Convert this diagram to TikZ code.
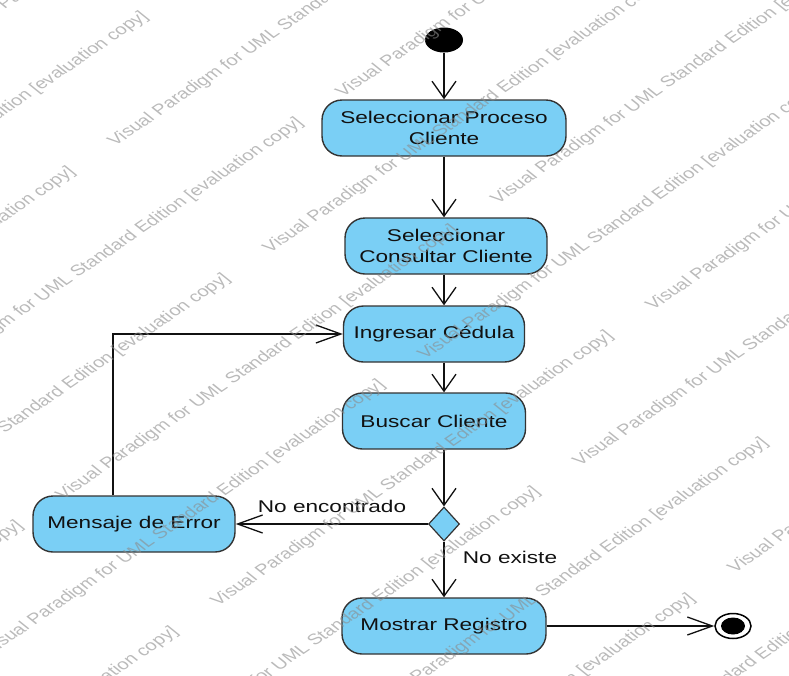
\documentclass[tikz,border=0pt]{standalone}
\usepackage{fontspec}
\setmainfont{Liberation Sans}[FakeStretch=1.33]
\newfontfamily\wmfont{Liberation Sans}
\usepackage{tikz}
\usetikzlibrary{arrows.meta,positioning,shapes.geometric}
\definecolor{actfill}{HTML}{7ACFF5}
\definecolor{actline}{HTML}{333333}
\definecolor{ink}{HTML}{111111}
\definecolor{wmgray}{HTML}{8C8C8C}
\tikzset{
  action/.style={draw=actline,fill=actfill,line width=1.4pt,rounded corners=20pt,
                 minimum height=56pt,inner sep=0pt,align=center,text=ink,
                 font=\fontsize{17}{21}\selectfont},
  decision/.style={diamond,draw=actline,fill=actfill,line width=1.2pt,inner sep=0pt,
                   aspect=0.91,minimum width=31pt,minimum height=34pt},
  initial/.style={ellipse,fill=black,inner sep=0pt,minimum width=38pt,minimum height=25pt},
  finalring/.style={ellipse,draw=black,fill=white,line width=1.5pt,inner sep=0pt,
                    minimum width=36pt,minimum height=25pt},
  finaldot/.style={ellipse,fill=black,inner sep=0pt,minimum width=24pt,minimum height=17pt},
  guard/.style={anchor=base,inner sep=0pt,text=ink,font=\fontsize{17}{21}\selectfont},
  vflow/.style={-{Straight Barb[length=17pt,width=24pt]},line width=1.3pt,color=ink},
  hflow/.style={-{Straight Barb[length=25pt,width=18pt]},line width=1.3pt,color=ink},
  wmark/.style={anchor=base west,inner sep=0pt,text=wmgray,text opacity=0.6,
                font=\wmfont\fontsize{15}{15}\selectfont,xscale=1.35,rotate=42.6}
}

\begin{document}
\begin{tikzpicture}[x=1pt,y=-1pt]
  \useasboundingbox (0,0) rectangle (789,675);
  \clip (0,0) rectangle (789,675);
  \coordinate (spine) at (444,0);
  % activities
  \node[initial] (start) at (444,40) {};
  \node[action,minimum width=244pt] (selproc) at (444,128) {Seleccionar Proceso\\Cliente};
  \node[action,minimum width=202pt] (selcons) at (446,246) {Seleccionar\\Consultar Cliente};
  \node[action,minimum width=181pt] (ingced) at (434,334) {Ingresar C\'edula};
  \node[action,minimum width=183pt] (buscli) at (434,421) {Buscar Cliente};
  \node[decision] (decide) at (444,524) {};
  \node[action,minimum width=202pt] (msgerr) at (134,524) {Mensaje de Error};
  \node[action,minimum width=204pt] (mostreg) at (444,626) {Mostrar Registro};
  \node[finalring] (fin) at (733,626) {};
  \node[finaldot] (findot) at (fin) {};
  % flows
  \draw[vflow] (start) -- (selproc);
  \draw[vflow] (selproc.south -| spine) -- (selcons.north -| spine);
  \draw[vflow] (selcons.south -| spine) -- (ingced.north -| spine);
  \draw[vflow] (ingced.south -| spine) -- (buscli.north -| spine);
  \draw[vflow] (buscli.south -| spine) -- (decide.north);
  \draw[hflow] (decide.west) -- (msgerr.east);
  \draw[vflow] (decide.south) -- (mostreg.north -| spine);
  \draw[hflow] ([xshift=-21pt]msgerr.north) |- (ingced.west);
  \draw[hflow] (mostreg.east) -- (fin.west);
  \node[guard] (noenc) at (332,512) {No encontrado};
  \node[guard] (noexi) at (510,563) {No existe};
  % watermark
  \foreach \n in {-1,...,11}{
    \foreach \m in {-2,...,2}{
      \pgfmathsetmacro\wx{188-73*isodd(\n)+155*floor(\n/2)+435*\m}
      \pgfmathsetmacro\wy{119+106*\n-0.68*\wx}
      \node[wmark] (wm-\n-\m) at (\wx,\wy) {Visual Paradigm for UML Standard Edition [evaluation copy]};
    }
  }
\end{tikzpicture}
\end{document}
